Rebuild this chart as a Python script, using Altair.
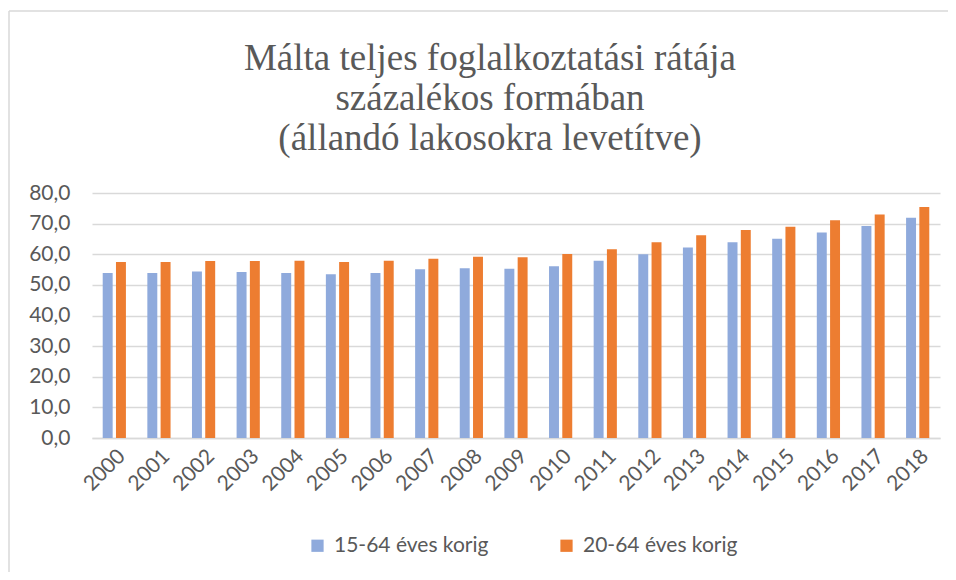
import altair as alt
import pandas as pd

years = [str(y) for y in range(2000, 2019)]
s1_name = "15-64 éves korig"
s2_name = "20-64 éves korig"
s1 = [53.9, 53.9, 54.4, 54.2, 53.9, 53.5, 53.9, 55.1, 55.4, 55.3, 56.1, 57.9, 60.0, 62.2, 63.9, 65.1, 67.1, 69.2, 71.9]
s2 = [57.5, 57.5, 57.8, 57.8, 57.9, 57.5, 57.9, 58.5, 59.2, 59.0, 60.1, 61.6, 63.9, 66.2, 67.9, 69.0, 71.1, 73.0, 75.4]
title_lines = ["Málta teljes foglalkoztatási rátája", "százalékos formában",
               "(állandó lakosokra levetítve)"]

rows = []
for i, y in enumerate(years):
    rows.append({"year": y, "series": s1_name, "value": s1[i]})
    rows.append({"year": y, "series": s2_name, "value": s2[i]})
df = pd.DataFrame(rows)

W, H = 848, 245
FONT = "Lato"
GRAY = "#595959"

bars = alt.Chart(df).mark_bar().encode(
    x=alt.X("year:N", sort=years, title=None,
            scale=alt.Scale(paddingInner=0.48, paddingOuter=0.24),
            axis=alt.Axis(labelAngle=-45, labelFontSize=21, labelColor=GRAY, labelFont=FONT,
                          ticks=False, domainColor="#D9D9D9", domainWidth=1.5, labelPadding=7,
                          grid=False)),
    xOffset=alt.XOffset("series:N", scale=alt.Scale(paddingInner=0.25)),
    y=alt.Y("value:Q", title=None,
            scale=alt.Scale(domain=[0, 80]),
            axis=alt.Axis(values=list(range(0, 81, 10)),
                          labelExpr="replace(format(datum.value, '.1f'), '.', ',')",
                          labelFontSize=21, labelColor=GRAY, labelFont=FONT,
                          ticks=False, domain=False, labelPadding=22,
                          gridColor="#D9D9D9", gridWidth=1.5)),
    color=alt.Color("series:N",
                    scale=alt.Scale(domain=[s1_name, s2_name], range=["#8FAADC", "#ED7D31"]),
                    legend=alt.Legend(title=None, orient="none", legendX=215, legendY=342,
                                      direction="horizontal", symbolType="square",
                                      symbolSize=150, labelFontSize=21, labelColor=GRAY,
                                      labelFont=FONT, columnPadding=67, labelOffset=6,
                                      symbolStrokeWidth=0)),
)

one = pd.DataFrame({"a": [0]})
left_edge = alt.Chart(one).mark_rule(stroke="#D9D9D9", strokeWidth=1.5).encode(
    x=alt.value(-83), y=alt.value(-182), y2=alt.value(420))
top_edge = alt.Chart(one).mark_rule(stroke="#D9D9D9", strokeWidth=1.5).encode(
    x=alt.value(-83), x2=alt.value(856), y=alt.value(-182))

title = alt.Chart(one).mark_text(
    text=title_lines, font="Liberation Serif", fontSize=37, color=GRAY,
    lineHeight=40, align="center", baseline="alphabetic"
).encode(x=alt.value(398), y=alt.value(-123))

chart = alt.layer(left_edge, top_edge, title, bars).properties(
    width=W, height=H,
    autosize=alt.AutoSizeParams(type="none"),
    padding={"left": 84, "top": 185, "right": 8, "bottom": 134},
).configure_view(stroke=None)

chart.save("out.html", embed_options={"renderer": "svg", "actions": False})
